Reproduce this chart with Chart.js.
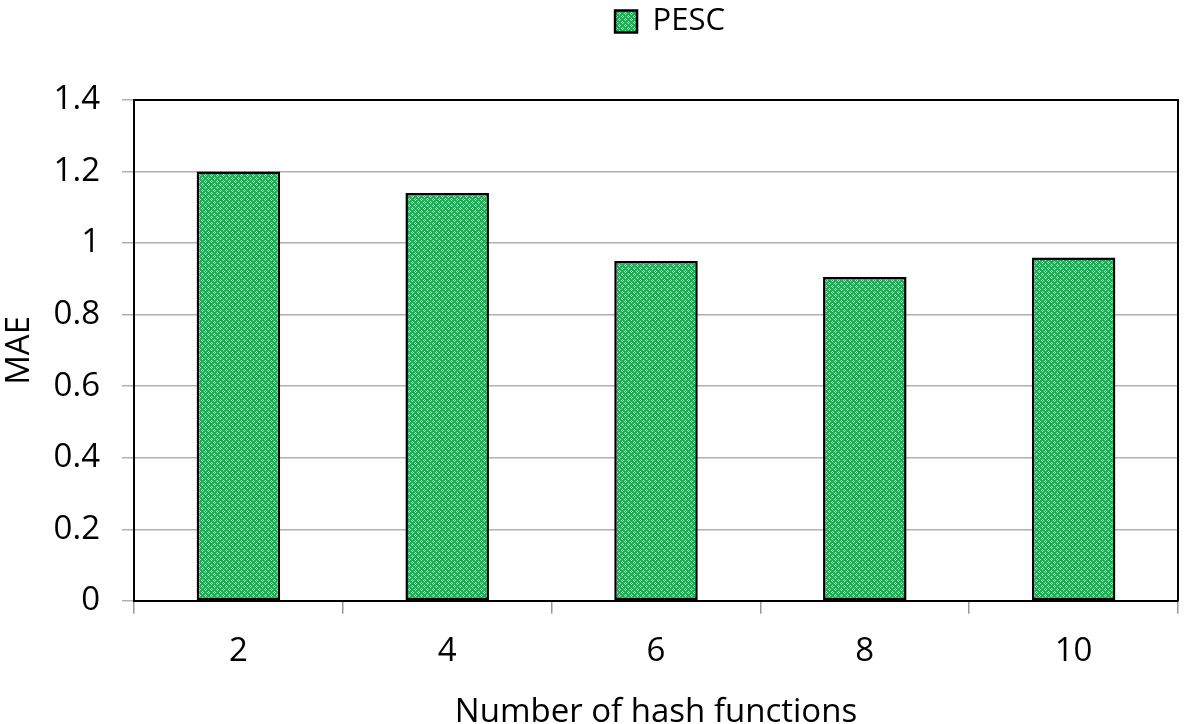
<!DOCTYPE html>
<html><head><meta charset="utf-8">
<script src="https://cdn.jsdelivr.net/npm/chart.js@4/dist/chart.umd.min.js"></script>
<style>html,body{margin:0;padding:0;background:#fff}#w{width:1184px;height:724px}</style>
</head><body><div id="w"><canvas id="c"></canvas></div>
<script>
const categories = ["2", "4", "6", "8", "10"];
const pescValues = [1.2, 1.14, 0.95, 0.905, 0.96];
const yTickLabels = ["0", "0.2", "0.4", "0.6", "0.8", "1", "1.2", "1.4"];

function makePattern(){
  const p = document.createElement('canvas');
  p.width = 6; p.height = 6;
  const g = p.getContext('2d');
  g.fillStyle = '#27a95a';
  g.fillRect(0,0,6,6);
  g.fillStyle = '#9ee3b6';
  g.fillRect(1,0,1,1);g.fillRect(0,1,1,1);g.fillRect(2,1,1,1);g.fillRect(1,2,1,1);
  g.fillRect(4,3,1,1);g.fillRect(3,4,1,1);g.fillRect(5,4,1,1);g.fillRect(4,5,1,1);
  return g.createPattern(p,'repeat');
}
const pat = makePattern();

const frame = {
  id:'frame',
  afterDatasetsDraw(chart){
    const {ctx, chartArea:a} = chart;
    ctx.save();
    ctx.strokeStyle='#000'; ctx.lineWidth=2;
    ctx.beginPath();
    ctx.moveTo(a.left,a.top); ctx.lineTo(a.right,a.top); ctx.lineTo(a.right,a.bottom);
    ctx.stroke();
    ctx.restore();
  }
};
const legendSpace = {
  id:'legendSpace',
  beforeInit(chart){
    const orig = chart.legend.fit;
    chart.legend.fit = function(){ orig.bind(chart.legend)(); this.height += 53; };
  },
  afterLayout(chart){
    chart.legend.left += 162;
  }
};

const FONT = 'Open Sans';
const FS = 33;
new Chart(document.getElementById('c'), {
  type:'bar',
  data:{labels:categories, datasets:[{label:'PESC', data:pescValues, backgroundColor:pat,
    borderColor:'#000', borderWidth:2.5, borderSkipped:false, categoryPercentage:0.8, barPercentage:0.5}]},
  options:{
    responsive:true, maintainAspectRatio:false, animation:false,
    layout:{padding:{left:0,right:6,top:0,bottom:0}},
    plugins:{
      legend:{position:'top', labels:{font:{family:FONT, size:31}, color:'#000', boxWidth:22, boxHeight:22, padding:6}},
      tooltip:{enabled:false}
    },
    scales:{
      x:{
        offset:true,
        grid:{offset:true, drawOnChartArea:false, color:'#999', tickLength:13, lineWidth:1.5},
        border:{color:'#000', width:2},
        ticks:{font:{family:FONT, size:FS}, color:'#000', padding:18},
        title:{display:true, text:'Number of hash functions', font:{family:FONT, size:FS}, color:'#000', padding:{top:3,bottom:-8}}
      },
      y:{
        min:0, max:1.4,
        ticks:{stepSize:0.2, font:{family:FONT, size:FS}, color:'#000', padding:22,
          callback:(v,i)=>yTickLabels[i]},
        grid:{color:'#b0b0b0', lineWidth:1.5, tickLength:12},
        border:{color:'#000', width:2},
        title:{display:true, text:'MAE', font:{family:FONT, size:FS}, color:'#000', padding:{top:0,bottom:-8}}
      }
    }
  },
  plugins:[frame, legendSpace]
});
</script></body></html>
